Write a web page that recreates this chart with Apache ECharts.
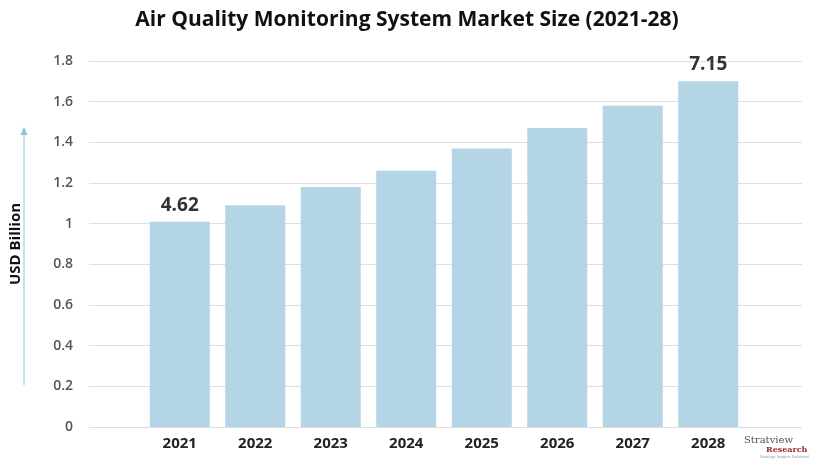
<!DOCTYPE html>
<html><head><meta charset="utf-8">
<script src="https://cdn.jsdelivr.net/npm/echarts@6/dist/echarts.min.js"></script>
<style>html,body{margin:0;padding:0;background:#fff}#c{width:814px;height:462px}</style>
</head><body><div id="c"></div>
<script>
const categories = ['2021','2022','2023','2024','2025','2026','2027','2028'];
const values = [1.01, 1.09, 1.18, 1.26, 1.37, 1.47, 1.58, 1.70];
const valueLabels = ['4.62', '', '', '', '', '', '', '7.15'];
const yTicks = { min: 0, max: 1.8, interval: 0.2 };

const chart = echarts.init(document.getElementById('c'));
chart.setOption({
  backgroundColor: '#fff',
  animation: false,
  title: {
    text: 'Air Quality Monitoring System Market Size (2021-28)',
    left: 'center', top: 5,
    textStyle: { fontFamily: 'Open Sans', fontWeight: 'bold', fontSize: 21, color: '#111' }
  },
  grid: [
    { left: 86, right: 12, top: 61, bottom: 35 },
    { left: 142, right: 68, top: 61, bottom: 35 }
  ],
  xAxis: [
    { type: 'category', gridIndex: 0, data: [''], show: false },
    { type: 'category', gridIndex: 1, data: categories,
      axisLine: { show: false }, axisTick: { show: false },
      axisLabel: { fontFamily: 'Open Sans', fontWeight: 'bold', fontSize: 15, color: '#222', margin: 9 } }
  ],
  yAxis: [
    { type: 'value', gridIndex: 0, min: yTicks.min, max: yTicks.max, interval: yTicks.interval,
      name: 'USD Billion', nameLocation: 'middle', nameGap: 66, nameRotate: 90,
      nameTextStyle: { fontFamily: 'Open Sans', fontWeight: 'bold', fontSize: 15, color: '#111' },
      axisLine: { show: false }, axisTick: { show: false },
      axisLabel: { fontFamily: 'Open Sans', fontWeight: 600, fontSize: 14, color: '#555', margin: 16,
        formatter: v => String(Math.round(v * 10) / 10) },
      splitLine: { lineStyle: { color: '#dedede', width: 1 } } },
    { type: 'value', gridIndex: 1, min: yTicks.min, max: yTicks.max, interval: yTicks.interval, show: false,
      splitLine: { show: false } }
  ],
  series: [{
    type: 'bar', xAxisIndex: 1, yAxisIndex: 1,
    data: values, barWidth: 60,
    itemStyle: { color: '#b3d5e5' },
    label: { show: true, position: 'top', distance: 7,
      formatter: p => valueLabels[p.dataIndex],
      fontFamily: 'Open Sans', fontWeight: 'bold', fontSize: 19, color: '#333' }
  }],
  graphic: [
    { type: 'line', shape: { x1: 24, y1: 385, x2: 24, y2: 134 }, style: { stroke: '#8fc0d8', lineWidth: 1 } },
    { type: 'polygon', shape: { points: [[24, 127], [20.5, 135], [27.5, 135]] }, style: { fill: '#8fc0d8' } },
    { type: 'text', left: 744, top: 435, style: { text: 'Stratview', font: '10px "DejaVu Serif"', fill: '#555' } },
    { type: 'text', left: 766, top: 446, style: { text: 'Research', font: 'bold 8px "DejaVu Serif"', fill: '#9b2a2a' } },
    { type: 'text', left: 760, top: 455, style: { text: 'Strategic Insights Delivered', font: '4px sans-serif', fill: '#999' } }
  ]
});
</script></body></html>
